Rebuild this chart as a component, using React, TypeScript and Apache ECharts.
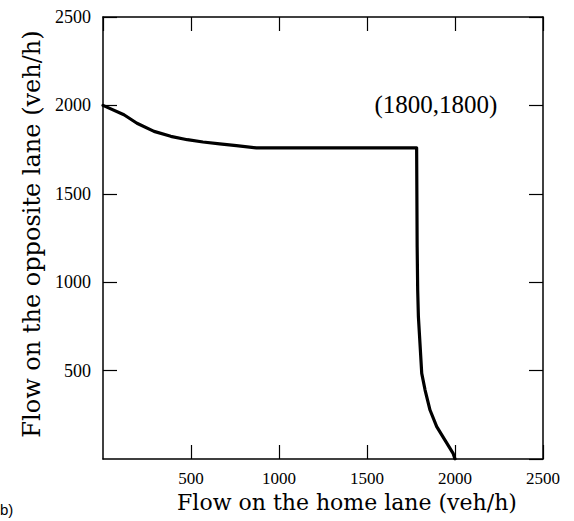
import React, { useEffect, useRef } from "react";
import * as echarts from "echarts";

const curveX = [0, 119, 193, 290, 385, 479, 568, 663, 758, 871, 1782, 1785, 1788, 1792, 1801, 1811, 1830, 1858, 1896, 1943, 1990, 2000];
const curveY = [2000, 1947, 1899, 1853, 1825, 1806, 1793, 1782, 1772, 1760, 1760, 1200, 956, 805, 654, 484, 390, 277, 183, 107, 30, 0];
const xTitle = "Flow on the home lane (veh/h)";
const yTitle = "Flow on the opposite lane (veh/h)";
const annotation = "(1800,1800)";
const panelLabel = "b)";

export default function App() {
  const ref = useRef<HTMLDivElement>(null);
  useEffect(() => {
    if (!ref.current) return;
    const chart = echarts.init(ref.current, undefined, { renderer: "svg" });
    const serif = "Liberation Serif";
    const titleFont = "DejaVu Serif";
    const axisCommon = {
      type: "value" as const,
      min: 0,
      max: 2500,
      interval: 500,
      splitLine: { show: false },
      axisLine: { show: true, onZero: false, lineStyle: { color: "#000", width: 1.5 } },
      axisTick: { show: true, inside: true, length: 14, lineStyle: { color: "#000", width: 1.2 } },
    };
    const fmt = (v: number) => String(v);
    chart.setOption({
      animation: false,
      backgroundColor: "#fff",
      grid: { left: 103, top: 17, width: 440, height: 442, containLabel: false },
      xAxis: [
        {
          ...axisCommon,
          position: "bottom",
          axisLabel: { show: true, showMinLabel: false, margin: 12, lineHeight: 14, color: "#000", fontFamily: serif, fontSize: 17, formatter: fmt },
        },
        {
          ...axisCommon,
          position: "top",
          axisLabel: { show: false },
        },
      ],
      yAxis: [
        {
          ...axisCommon,
          position: "left",
          axisLabel: { show: true, showMinLabel: false, margin: 12, color: "#000", fontFamily: serif, fontSize: 18, formatter: fmt },
        },
        {
          ...axisCommon,
          position: "right",
          axisLabel: { show: false },
        },
      ],
      series: [
        {
          type: "line",
          xAxisIndex: 0,
          yAxisIndex: 0,
          data: curveX.map((x, i) => [x, curveY[i]]),
          showSymbol: false,
          symbol: "none",
          smooth: false,
          lineStyle: { color: "#000", width: 3.2, join: "round", cap: "round" },
        },
      ],
      graphic: [
        {
          type: "text",
          x: 347,
          y: 502,
          style: { text: xTitle, font: `22px ${titleFont}`, lineHeight: 20, fill: "#000", align: "center", verticalAlign: "middle" },
        },
        {
          type: "text",
          x: 32,
          y: 234,
          rotation: Math.PI / 2,
          style: { text: yTitle, font: `24px ${titleFont}`, fill: "#000", align: "center", verticalAlign: "middle" },
        },
        {
          type: "text",
          x: 436,
          y: 104,
          style: { text: annotation, font: `25px ${serif}`, fill: "#000", align: "center", verticalAlign: "middle" },
        },
        {
          type: "text",
          left: 0,
          top: 502,
          style: { text: panelLabel, font: `15px Liberation Sans`, fill: "#000" },
        },
      ],
    });
    return () => chart.dispose();
  }, []);
  return <div ref={ref} style={{ position: "fixed", left: 0, top: 0, width: 574, height: 521 }} />;
}
